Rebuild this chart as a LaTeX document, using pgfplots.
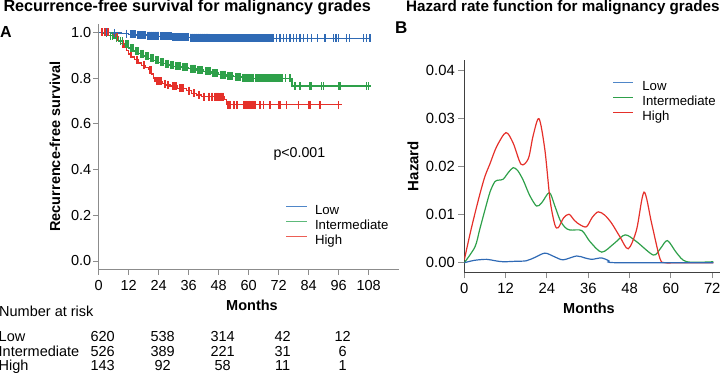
\documentclass[border=0pt]{standalone}
\usepackage{pgfplots}
\pgfplotsset{compat=1.18}
\usepackage{pgfplotstable}
\usepackage{fontspec}
\setmainfont{Liberation Sans}
\definecolor{kmblue}{HTML}{2F6AB5}
\definecolor{kmgreen}{HTML}{2EA04A}
\definecolor{kmred}{HTML}{E5302A}
\definecolor{legblue}{HTML}{4F86C8}
\definecolor{leggreen}{HTML}{5DB97A}
\definecolor{legred}{HTML}{EC5E55}
\definecolor{axgray}{HTML}{8C8C8C}
\newcommand\fs[1]{\fontsize{#1}{#1}\selectfont}

\pgfplotstableread{
t S c
0 1.000 0
3 1.000 1
5 0.997 0
6.2 0.997 1
9 0.994 0
11 0.994 1
12 0.991 0
12.6 0.991 1
13.4 0.991 1
14.2 0.991 1
15 0.988 0
15.6 0.988 1
16.4 0.988 1
17.2 0.988 1
18.0 0.988 1
19 0.985 0
19.6 0.985 1
20.4 0.985 1
21.2 0.985 1
22.0 0.985 1
22.8 0.985 1
23.5 0.985 1
24 0.982 0
24.6 0.982 1
25.4 0.982 1
26.2 0.982 1
27.0 0.982 1
27.8 0.982 1
28.5 0.982 1
29 0.979 0
29.6 0.979 1
30.4 0.979 1
31.2 0.979 1
32.0 0.979 1
32.8 0.979 1
33.6 0.979 1
34.4 0.979 1
35.2 0.979 1
36 0.977 0
36.6 0.977 1
37.4 0.977 1
38.2 0.977 1
39.0 0.977 1
39.8 0.977 1
40.6 0.977 1
41.4 0.977 1
42.2 0.977 1
43.0 0.977 1
43.6 0.977 1
44 0.975 0
44.6 0.975 1
45.4 0.975 1
46.2 0.975 1
47.0 0.975 1
47.8 0.975 1
48.6 0.975 1
49.4 0.975 1
50.2 0.975 1
51.0 0.975 1
51.6 0.975 1
52 0.973 0
52.6 0.973 1
53.4 0.973 1
54.2 0.973 1
55.0 0.973 1
55.8 0.973 1
56.6 0.973 1
57.4 0.973 1
58.2 0.973 1
59.0 0.973 1
59.8 0.973 1
60.6 0.973 1
61.4 0.973 1
62.2 0.973 1
63.0 0.973 1
63.8 0.973 1
64.6 0.973 1
65.4 0.973 1
66.2 0.973 1
67.0 0.973 1
67.8 0.973 1
68.6 0.973 1
69.4 0.973 1
71.2 0.973 1
72.5 0.973 1
73.8 0.973 1
75.2 0.973 1
76.5 0.973 1
77.8 0.973 1
79.2 0.973 1
80.5 0.973 1
81.8 0.973 1
83.4 0.973 1
85.2 0.973 1
87.4 0.973 1
90.5 0.973 1
93.8 0.973 1
94.9 0.973 1
95.8 0.973 1
99.2 0.973 1
100.2 0.973 1
105.8 0.973 1
107.2 0.973 1
108.5 0.973 1
109 0.973 0
}\lowtab

\pgfplotstableread{
t S c
0 1.000 0
2 0.995 0
3 0.995 1
4 0.985 0
4.6 0.985 1
5.4 0.985 1
6 0.975 0
7 0.975 1
8 0.962 0
8.6 0.962 1
9.4 0.962 1
10 0.947 0
10.6 0.947 1
11.4 0.947 1
12 0.931 0
12.6 0.931 1
13.4 0.931 1
14 0.918 0
14.6 0.918 1
15.4 0.918 1
16 0.906 0
16.6 0.906 1
17.4 0.906 1
18 0.896 0
18.6 0.896 1
19.4 0.896 1
20 0.886 0
20.6 0.886 1
21.4 0.886 1
22 0.877 0
22.6 0.877 1
23.4 0.877 1
24 0.869 0
24.6 0.869 1
25.4 0.869 1
26 0.862 0
26.6 0.862 1
27.4 0.862 1
28 0.857 0
28.6 0.857 1
29.4 0.857 1
30 0.852 0
30.6 0.852 1
31.4 0.852 1
32.2 0.852 1
33 0.847 0
33.6 0.847 1
34.4 0.847 1
35.2 0.847 1
36 0.841 0
36.6 0.841 1
37.4 0.841 1
38.2 0.841 1
39 0.835 0
39.6 0.835 1
40.4 0.835 1
41.2 0.835 1
42 0.829 0
42.6 0.829 1
43.4 0.829 1
44.2 0.829 1
45 0.822 0
45.6 0.822 1
46.4 0.822 1
47.2 0.822 1
48 0.815 0
48.6 0.815 1
49.4 0.815 1
50.2 0.815 1
51 0.809 0
51.6 0.809 1
52.4 0.809 1
53.2 0.809 1
54 0.805 0
54.6 0.805 1
55.4 0.805 1
56.2 0.805 1
57 0.801 0
57.6 0.801 1
58.4 0.801 1
59.2 0.801 1
60.0 0.801 1
60.8 0.801 1
61.6 0.801 1
62 0.798 0
62.6 0.798 1
63.4 0.798 1
64.2 0.798 1
65.0 0.798 1
65.8 0.798 1
66.6 0.798 1
67.4 0.798 1
68.2 0.798 1
69.0 0.798 1
69.8 0.798 1
70.6 0.798 1
71.4 0.798 1
72.2 0.798 1
73.0 0.798 1
74.8 0.798 1
76.5 0.798 1
77.3 0.765 0
78.5 0.765 1
80.5 0.765 1
84.5 0.765 1
85.2 0.765 1
89.2 0.765 1
89.8 0.765 1
95.8 0.765 1
96.5 0.765 1
107.2 0.765 1
107.8 0.765 1
109 0.765 0
}\midtab

\pgfplotstableread{
t S c
0 1.000 0
1.2 1.000 1
2.4 1.000 1
3.6 1.000 1
5.5 0.990 0
6.5 0.980 0
7.2 0.980 1
7.8 0.962 0
8.8 0.950 0
9.5 0.950 1
10.2 0.935 0
11.2 0.920 0
11.9 0.905 0
12.6 0.905 1
13.2 0.892 0
14.2 0.880 0
15.0 0.880 1
15.8 0.866 0
17.0 0.855 0
17.8 0.855 1
18.6 0.845 0
19.8 0.836 0
20.5 0.836 1
21.2 0.818 0
22.0 0.800 0
22.5 0.785 0
23.0 0.785 1
23.6 0.785 1
24.2 0.785 1
24.8 0.785 1
25.5 0.775 0
26.2 0.775 1
26.8 0.770 0
27.5 0.770 1
28.5 0.765 0
29.5 0.765 1
30.5 0.765 1
31.5 0.756 0
32.5 0.756 1
33.5 0.756 1
35.0 0.745 0
36.0 0.745 1
37.2 0.734 0
38.0 0.734 1
39.0 0.726 0
40.0 0.726 1
41.2 0.719 0
42.0 0.719 1
44.0 0.719 1
45.0 0.719 1
46.5 0.719 1
47.5 0.719 1
48.5 0.719 1
49.3 0.719 1
50.2 0.705 0
51.0 0.683 0
51.6 0.683 1
52.4 0.683 1
53.9 0.683 1
55.2 0.683 1
57.9 0.683 1
58.5 0.683 1
59.1 0.683 1
59.7 0.683 1
60.3 0.683 1
60.9 0.683 1
61.5 0.683 1
62.2 0.683 1
64.5 0.683 1
65.8 0.683 1
68.5 0.683 1
71.8 0.683 1
72.5 0.683 1
75.2 0.683 1
79.8 0.683 1
83.8 0.683 1
84.5 0.683 1
88.5 0.683 1
95.8 0.683 1
97.4 0.683 0
}\hightab

\pgfplotstableread{
m h
0 0.0006
1.7 0.0061
3 0.0100
4.6 0.0145
6 0.0180
7.5 0.0207
9.4 0.0242
12.1 0.0271
14.2 0.0249
16.5 0.0205
18.6 0.0217
20 0.0265
21.7 0.0300
23.4 0.0235
24.9 0.0131
26.3 0.0079
27.3 0.0073
28.8 0.0093
30.4 0.0101
32 0.0088
33.6 0.0079
35.5 0.0075
37.2 0.0095
38.9 0.0106
40.8 0.0099
42.8 0.0082
45.2 0.0054
47.6 0.0029
50 0.0068
52.2 0.0147
54.4 0.0082
56.8 0.0009
58.3 0.0000
62 0.0000
72.3 0.0000
}\hazhigh

\pgfplotstableread{
m h
0 0.0000
3.1 0.0033
4.5 0.0070
6 0.0110
7.5 0.0148
8.9 0.0169
10 0.0172
11.3 0.0174
12.8 0.0188
14.2 0.0198
15.5 0.0192
17.1 0.0172
19 0.0140
21 0.0118
22.5 0.0125
24.7 0.0146
26.2 0.0120
27.8 0.0089
29.2 0.0074
30.7 0.0068
34.1 0.0067
36.5 0.0044
39.9 0.0022
43.5 0.0040
46.7 0.0058
50 0.0044
54.9 0.0016
57 0.0030
59 0.0046
61.7 0.0020
64.6 0.0002
72.3 0.0002
}\hazmid

\pgfplotstableread{
m h
0 0.0000
3 0.0005
6.5 0.0007
9 0.0004
11.3 0.0002
15 0.0003
18 0.0004
20.5 0.0011
23.4 0.0020
26 0.0013
28.7 0.0006
32.6 0.0014
35 0.0010
37 0.0007
39.9 0.0010
42 0.0004
44.2 0.0000
72.3 0.0000
}\hazlow

\begin{document}
\begin{tikzpicture}[x=1pt,y=1pt]
\path[use as bounding box] (0,0) rectangle (720,373);

% ---------------- Panel A ----------------
\begin{axis}[
  at={(98.7pt,103.7pt)}, anchor=south west, scale only axis,
  width=300pt, height=245.3pt,
  xmin=0, xmax=120, ymin=-0.0363, ymax=1.0363,
  axis x line*=bottom, axis y line*=left,
  axis line style={axgray, line width=1pt, -},
  tick align=outside, major tick length=5.5pt,
  tick style={axgray, line width=0.9pt},
  xtick={0,12,24,36,48,60,72,84,96,108},
  xticklabels={0,12,24,36,48,60,72,84,96,108},
  ytick={0,0.2,0.4,0.6,0.8,1.0},
  yticklabels={0.0,0.2,0.4,0.6,0.8,1.0},
  scaled ticks=false,
  ticklabel style={font=\fs{14.5}},
  xticklabel style={yshift=-2pt},
  yticklabel style={xshift=1.5pt},
  xlabel={\bfseries Months},
  ylabel={\bfseries Recurrence-free survival},
  xlabel style={font=\fs{14.5}, at={(axis description cs:0.511,-0.1455)}, anchor=center},
  ylabel style={font=\fs{14.5}, at={(axis description cs:-0.1457,0.5)}, anchor=center},
  legend cell align=left,
  legend image code/.code={\draw[#1] (0pt,4.5pt) -- (21pt,4.5pt);},
  legend style={at={(axis description cs:0.621,0.1765)}, anchor=west,
    draw=none, fill=none, font=\fs{13.2}, inner sep=0pt,
    row sep=2.5pt, column sep=7pt,
    nodes={inner sep=0pt, text height=9.5pt, text depth=3pt}},
  clip=false,
  cens/.style={forget plot, only marks, mark=|, mark size=4pt, mark options={line width=1.1pt}},
]
\addlegendimage{legblue, line width=1.8pt}
\addlegendentry{Low}
\addlegendimage{leggreen, line width=1.8pt}
\addlegendentry{Intermediate}
\addlegendimage{legred, line width=1.8pt}
\addlegendentry{High}

% High
\addplot[forget plot, kmred, line width=1.2pt, const plot mark left] table[x=t,y=S]{\hightab};
\addplot[cens, kmred, restrict expr to domain={\thisrow{c}}{0.5:1.5}] table[x=t,y=S]{\hightab};
\addplot[cens, kmred, restrict expr to domain={\thisrow{c}*(\thisrow{t}<63)}{0.5:1.5}]
  table[x expr=\thisrow{t}+0.4,y=S]{\hightab};
% Intermediate
\addplot[forget plot, kmgreen, line width=1.2pt, const plot mark left] table[x=t,y=S]{\midtab};
\addplot[cens, kmgreen, restrict expr to domain={\thisrow{c}}{0.5:1.5}] table[x=t,y=S]{\midtab};
\addplot[cens, kmgreen, restrict expr to domain={\thisrow{c}*(\thisrow{t}<74)*(\thisrow{t}>10)}{0.5:1.5}]
  table[x expr=\thisrow{t}+0.4,y=S]{\midtab};
% Low
\addplot[forget plot, kmblue, line width=1.2pt, const plot mark left] table[x=t,y=S]{\lowtab};
\addplot[cens, kmblue, restrict expr to domain={\thisrow{c}}{0.5:1.5}] table[x=t,y=S]{\lowtab};
\addplot[cens, kmblue, restrict expr to domain={\thisrow{c}*(\thisrow{t}<70)*(\thisrow{t}>12)}{0.5:1.5}]
  table[x expr=\thisrow{t}+0.27,y=S]{\lowtab};
\addplot[cens, kmblue, restrict expr to domain={\thisrow{c}*(\thisrow{t}<70)*(\thisrow{t}>12)}{0.5:1.5}]
  table[x expr=\thisrow{t}+0.54,y=S]{\lowtab};
\end{axis}

% ---------------- Panel B ----------------
\begin{axis}[
  at={(464.3pt,100.7pt)}, anchor=south west, scale only axis,
  width=255.5pt, height=212.3pt,
  xmin=0, xmax=74.2, ymin=-0.002, ymax=0.04223,
  axis x line*=bottom, axis y line*=left,
  axis line style={black!75, line width=1pt, -},
  tick align=outside, major tick length=6pt,
  tick style={axgray, line width=0.9pt},
  xtick={0,12,24,36,48,60,72},
  xticklabels={0,12,24,36,48,60,72},
  ytick={0,0.01,0.02,0.03,0.04},
  yticklabels={0.00,0.01,0.02,0.03,0.04},
  scaled ticks=false,
  ticklabel style={font=\fs{14.8}},
  xticklabel style={yshift=-1pt},
  xlabel={\bfseries Months},
  ylabel={\bfseries Hazard},
  xlabel style={font=\fs{14.5}, at={(axis description cs:0.488,-0.168)}, anchor=center},
  ylabel style={font=\fs{15}, at={(axis description cs:-0.2008,0.5)}, anchor=center},
  legend cell align=left,
  legend image code/.code={\draw[#1] (0pt,4.5pt) -- (20pt,4.5pt);},
  legend style={at={(axis description cs:0.5794,0.802)}, anchor=west,
    draw=none, fill=none, font=\fs{13.2}, inner sep=0pt,
    row sep=2.5pt, column sep=8pt,
    nodes={inner sep=0pt, text height=9.5pt, text depth=3pt}},
]
\addlegendimage{legblue, line width=1.8pt}
\addlegendentry{Low}
\addlegendimage{kmgreen, line width=1.8pt}
\addlegendentry{Intermediate}
\addlegendimage{kmred, line width=1.8pt}
\addlegendentry{High}
\addplot[forget plot, kmgreen, line width=1.2pt, smooth, tension=0.5] table[x=m,y=h]{\hazmid};
\addplot[forget plot, kmred, line width=1.2pt, smooth, tension=0.5] table[x=m,y=h]{\hazhigh};
\addplot[forget plot, kmblue, line width=1.2pt, smooth, tension=0.5] table[x=m,y=h]{\hazlow};
\end{axis}

% ---------------- Text ----------------
\node[anchor=base west, inner sep=0pt, font=\fs{16.2}\bfseries] at (3.3,361.5) {Recurrence-free survival for malignancy grades};
\node[anchor=base west, inner sep=0pt, font=\fs{15.2}\bfseries] at (406,361.5) {Hazard rate function for malignancy grades};
\node[anchor=base west, inner sep=0pt, font=\fs{16}\bfseries] at (0,335.5) {A};
\node[anchor=base west, inner sep=0pt, font=\fs{17}\bfseries] at (395,339.7) {B};
\node[anchor=base west, inner sep=0pt, font=\fs{14.2}] at (273.3,215.7) {p<0.001};

\node[anchor=base west, inner sep=0pt, font=\fs{14.5}] at (-1,56.3) {Number at risk};
\node[anchor=base west, inner sep=0pt, font=\fs{14.5}] at (-1.5,31.3) {Low};
\node[anchor=base west, inner sep=0pt, font=\fs{14.5}] at (-1.5,16.3) {Intermediate};
\node[anchor=base west, inner sep=0pt, font=\fs{14.5}] at (-1.5,3) {High};
\foreach \xx/\a/\b/\c in {102.7/620/526/143, 162.7/538/389/92, 222.7/314/221/58, 282.7/42/31/11, 342.7/12/6/1}{
  \node[anchor=base, inner sep=0pt, font=\fs{14.5}] at (\xx,31.3) {\a};
  \node[anchor=base, inner sep=0pt, font=\fs{14.5}] at (\xx,16.3) {\b};
  \node[anchor=base, inner sep=0pt, font=\fs{14.5}] at (\xx,3) {\c};
}
\end{tikzpicture}
\end{document}
